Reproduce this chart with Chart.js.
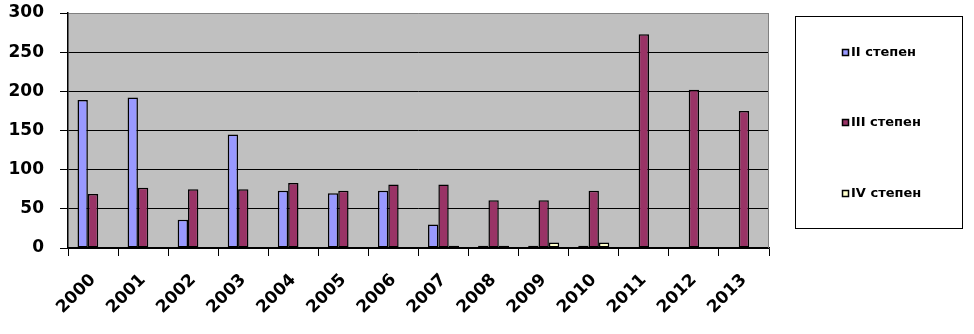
<!DOCTYPE html>
<html>
<head>
<meta charset="utf-8">
<script src="https://cdn.jsdelivr.net/npm/chart.js@4"></script>
<style>
  html, body { margin: 0; padding: 0; background: #fff; }
  #wrap { width: 974px; height: 334px; position: relative; }
</style>
</head>
<body>
<div id="wrap"><canvas id="chart"></canvas></div>
<script>
// Данни
const years = ['2000', '2001', '2002', '2003', '2004', '2005', '2006', '2007', '2008', '2009', '2010', '2011', '2012', '2013'];
const stepen2 = [189, 192, 36, 145, 73, 70, 73, 30, 3, 3, 3, null, null, null];
const stepen3 = [69, 77, 75, 75, 83, 73, 81, 81, 61, 61, 73, 273, 202, 175];
const stepen4 = [null, null, null, null, null, null, null, 3, 3, 7, 7, null, null, null];
const yTicks = [0, 50, 100, 150, 200, 250, 300];

const FONT = 'DejaVu Sans';

// Сив фон на графиката
const plotBackground = {
    id: 'plotBackground',
    beforeDraw(chart) {
        const { ctx, chartArea: a } = chart;
        ctx.save();
        ctx.fillStyle = '#C0C0C0';
        ctx.fillRect(a.left, a.top, a.right - a.left, a.bottom - a.top);
        ctx.restore();
    },
    afterDraw(chart) {
        const { ctx, chartArea: a } = chart;
        ctx.save();
        ctx.strokeStyle = '#808080';
        ctx.lineWidth = 1;
        ctx.beginPath();
        ctx.moveTo(a.right - 0.5, a.top);
        ctx.lineTo(a.right - 0.5, a.bottom);
        ctx.stroke();
        ctx.restore();
    }
};

// Легенда в рамка вдясно
const boxLegend = {
    id: 'boxLegend',
    afterDraw(chart) {
        const ctx = chart.ctx;
        ctx.save();
        ctx.fillStyle = '#fff';
        ctx.strokeStyle = '#000';
        ctx.lineWidth = 1;
        ctx.fillRect(795, 16, 167, 212);
        ctx.strokeRect(795.5, 16.5, 167, 212);
        const rows = [53, 123, 194];
        ctx.font = 'bold 13px ' + FONT;
        ctx.textBaseline = 'middle';
        chart.data.datasets.forEach((ds, i) => {
            const y = rows[i];
            ctx.fillStyle = ds.backgroundColor;
            ctx.fillRect(842, y - 4, 7, 7);
            ctx.strokeStyle = '#000';
            ctx.lineWidth = 1.5;
            ctx.strokeRect(842.5, y - 3.5, 6, 6);
            ctx.fillStyle = '#000';
            ctx.fillText(ds.label, 851, y);
        });
        ctx.restore();
    }
};

const barStyle = {
    borderColor: '#000',
    borderWidth: 1.5,
    borderSkipped: false,
    categoryPercentage: 0.62,
    barPercentage: 1.0
};

new Chart(document.getElementById('chart'), {
    type: 'bar',
    data: {
        labels: years,
        datasets: [
            { label: 'II степен', data: stepen2, backgroundColor: '#9999FF', ...barStyle },
            { label: 'III степен', data: stepen3, backgroundColor: '#993366', ...barStyle },
            { label: 'IV степен', data: stepen4, backgroundColor: '#FFFFCC', ...barStyle }
        ]
    },
    options: {
        responsive: true,
        maintainAspectRatio: false,
        animation: false,
        layout: { padding: { top: 13, right: 205, left: 0, bottom: 0 } },
        plugins: {
            legend: { display: false },
            tooltip: { enabled: false }
        },
        scales: {
            x: {
                grid: {
                    offset: true,
                    drawOnChartArea: false,
                    drawTicks: true,
                    tickLength: 8,
                    color: '#000'
                },
                border: { color: '#000', width: 1.5 },
                ticks: {
                    color: '#000',
                    minRotation: 45,
                    maxRotation: 45,
                    padding: 14,
                    font: { family: FONT, size: 17, weight: 'bold' }
                },
                afterFit(scale) {
                    scale.height = 86;
                    scale.paddingLeft = 0;
                    scale.paddingRight = 0;
                    scale.paddingTop = 0;
                    scale.paddingBottom = 0;
                }
            },
            y: {
                min: 0,
                max: 300,
                afterBuildTicks(scale) { scale.ticks = yTicks.map(v => ({ value: v })); },
                grid: {
                    color: ctx => (ctx.tick && ctx.tick.value === 300 ? '#808080' : '#000'),
                    tickColor: '#000',
                    tickLength: 8,
                    lineWidth: 1
                },
                border: { color: '#000', width: 1.5 },
                ticks: {
                    color: '#000',
                    padding: 16,
                    font: { family: FONT, size: 17, weight: 'bold' }
                },
                afterFit(scale) {
                    scale.width = 68;
                    scale.paddingTop = 0;
                    scale.paddingBottom = 0;
                    scale.paddingLeft = 0;
                    scale.paddingRight = 0;
                }
            }
        }
    },
    plugins: [plotBackground, boxLegend]
});
</script>
</body>
</html>
